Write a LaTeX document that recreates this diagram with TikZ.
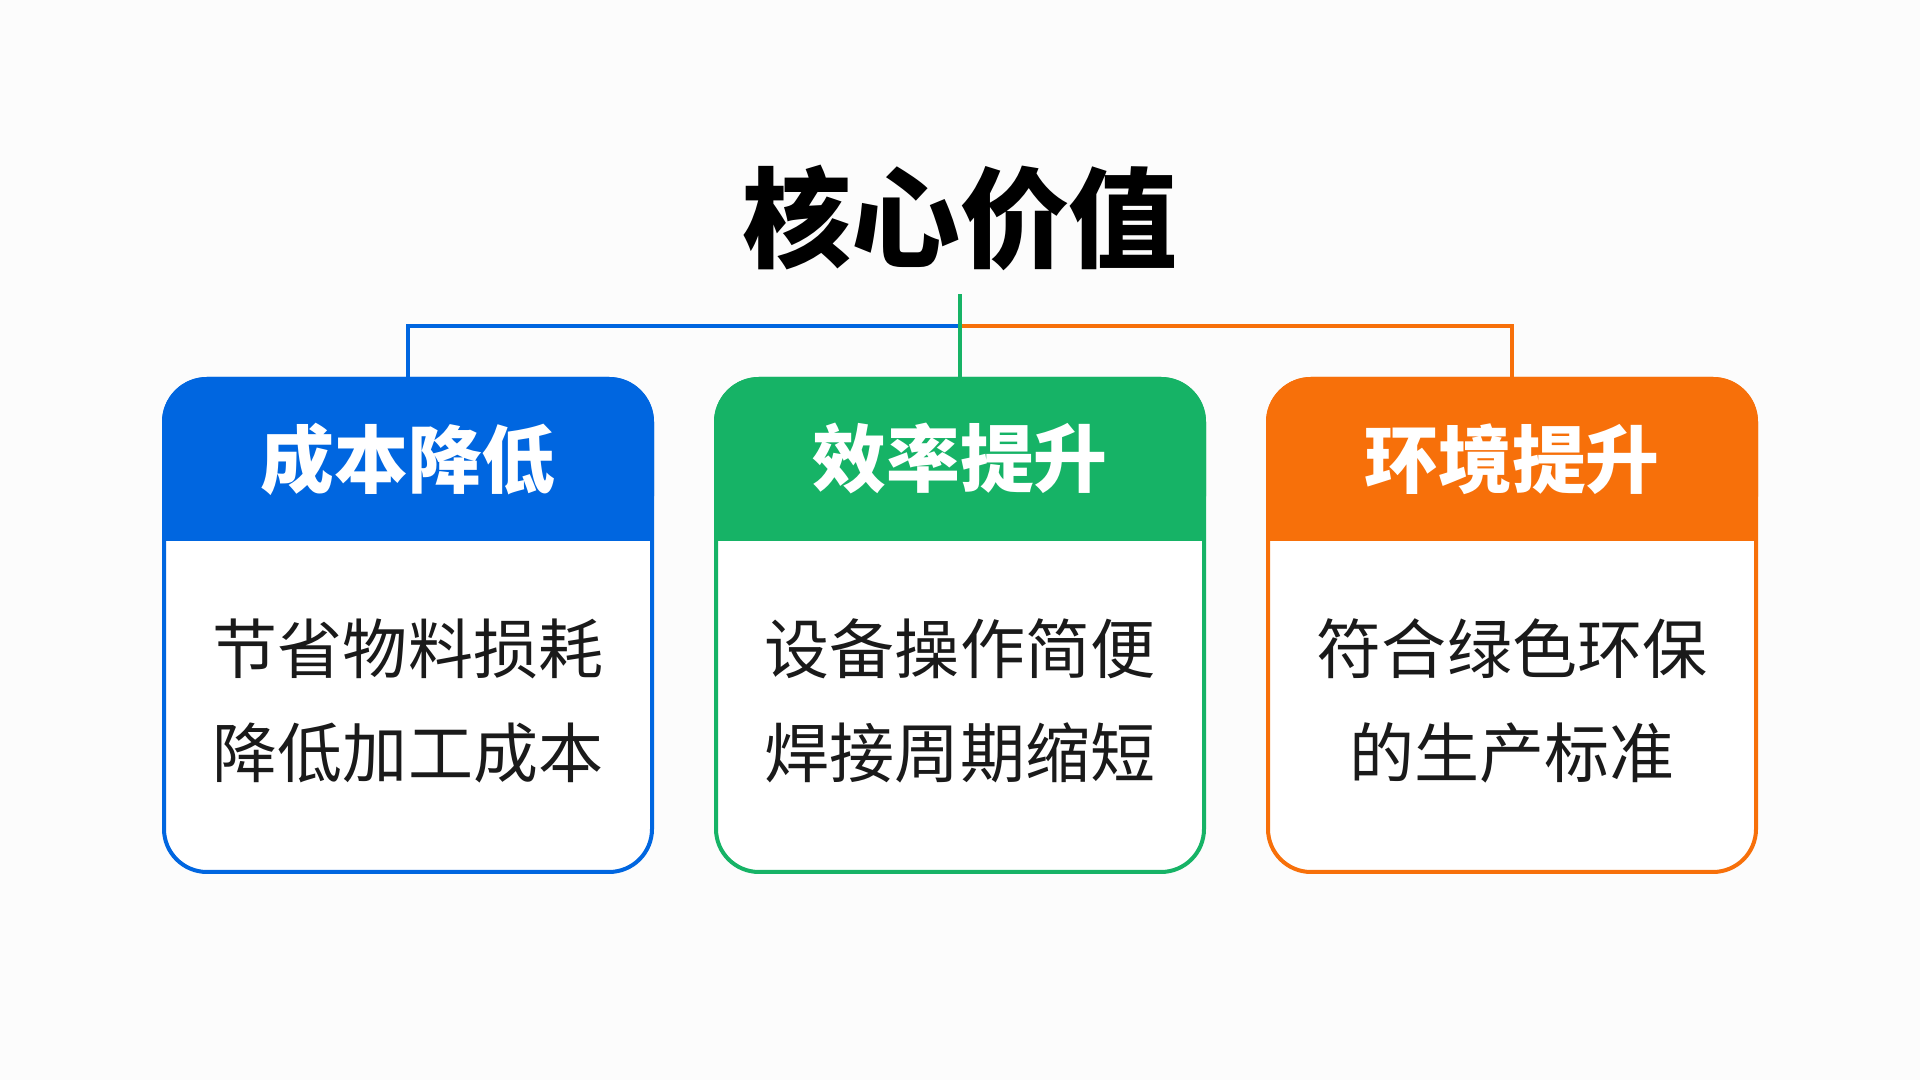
\documentclass[tikz,border=0pt]{standalone}
\usepackage{fontspec}
\setmainfont{Noto Sans CJK SC}
\usetikzlibrary{positioning}

\definecolor{costblue}{RGB}{0,102,224}
\definecolor{effgreen}{RGB}{22,179,102}
\definecolor{envorange}{RGB}{247,112,10}
\definecolor{bodytext}{RGB}{26,26,26}
\definecolor{paper}{RGB}{252,252,252}

\begin{document}
\begin{tikzpicture}[node distance=0.6cm, line width=0.04cm]
    % Define styles
    \tikzstyle{card} = [draw, rectangle, rounded corners=0.43cm, minimum width=4.88cm, minimum height=4.93cm, fill=white]
    \tikzstyle{cardhead} = [draw, rectangle, rounded corners=0.43cm, minimum width=4.88cm, minimum height=1.6cm, anchor=north]
    \tikzstyle{headtext} = [text=white, font=\fontsize{21}{25}\selectfont\bfseries]
    \tikzstyle{cardtext} = [align=center, text=bodytext, font=\fontsize{18.5}{29.6}\selectfont]
    \tikzstyle{link} = [line width=0.035cm]

    % Background
    \fill[paper] (0,0) rectangle (19.2,10.8);
    \useasboundingbox (0,0) rectangle (19.2,10.8);

    % TITLE
    \node (title) at (9.6,8.62) {\fontsize{31}{36}\selectfont\bfseries 核心价值};

    % CARDS
    \node (xl_box) [card, draw=effgreen] at (9.6,4.545) {};
    \node (cb_box) [card, draw=costblue, left=of xl_box] {};
    \node (hj_box) [card, draw=envorange, right=of xl_box] {};

    % Headers
    \node (cb_head) [cardhead, draw=costblue, fill=costblue] at (cb_box.north) {};
    \fill[costblue] (cb_head.south west) rectangle (cb_head.east);
    \node (xl_head) [cardhead, draw=effgreen, fill=effgreen] at (xl_box.north) {};
    \fill[effgreen] (xl_head.south west) rectangle (xl_head.east);
    \node (hj_head) [cardhead, draw=envorange, fill=envorange] at (hj_box.north) {};
    \fill[envorange] (hj_head.south west) rectangle (hj_head.east);
    \node (cb_label) [headtext] at (cb_head) {成本降低};
    \node (xl_label) [headtext] at (xl_head) {效率提升};
    \node (hj_label) [headtext] at (hj_head) {环境提升};

    % Body text
    \node (cb_text) [cardtext] at ([yshift=-0.755cm]cb_box.center) {节省物料损耗\\降低加工成本};
    \node (xl_text) [cardtext] at ([yshift=-0.755cm]xl_box.center) {设备操作简便\\焊接周期缩短};
    \node (hj_text) [cardtext] at ([yshift=-0.755cm]hj_box.center) {符合绿色环保\\的生产标准};

    % CONNECTIONS
    \coordinate (hub) at (9.6,7.54);
    \coordinate (stem_top) at (9.6,7.86);
    \draw[link, costblue] (cb_box.north) |- (hub);
    \draw[link, envorange] (hj_box.north) |- (hub);
    \draw[link, effgreen] (xl_box.north) -- (stem_top);

\end{tikzpicture}
\end{document}
